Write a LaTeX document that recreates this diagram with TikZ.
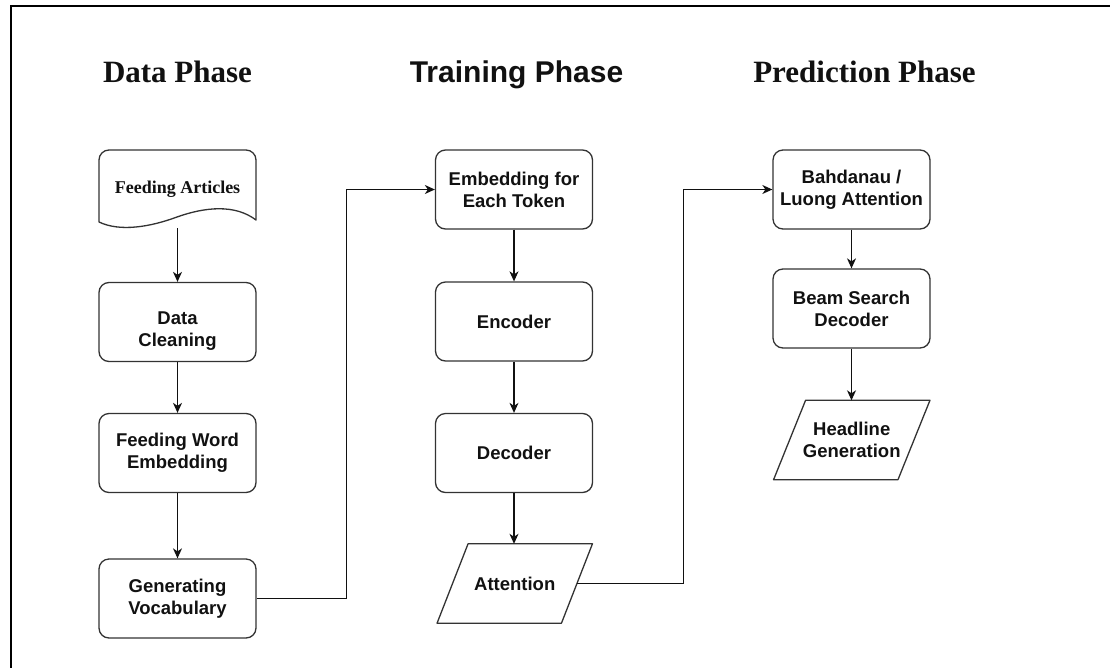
\documentclass[tikz,border=0pt]{standalone}
\usepackage{fontspec}
\setmainfont{Liberation Serif}
\setsansfont{Liberation Sans}
\usetikzlibrary{arrows.meta}
\definecolor{edgegray}{HTML}{333333}
\definecolor{inkblack}{HTML}{111111}
\begin{document}
\begin{tikzpicture}[x=1pt,y=-1pt,
  boxtext/.style={font=\sffamily\bfseries\fontsize{18.5}{22}\selectfont, text=inkblack, align=center},
  procbox/.style={boxtext, draw=edgegray, line width=1.3pt, rounded corners=10pt,
    minimum width=157pt, minimum height=79pt, inner sep=0pt},
  iobox/.style={boxtext, minimum width=124pt, minimum height=79pt, inner sep=0pt},
  phasetitle/.style={font=\bfseries\fontsize{31}{36}\selectfont, text=inkblack, anchor=base},
  flow/.style={draw=inkblack, line width=1.1pt, -{Stealth[length=10pt,width=9pt,inset=3pt]}},
  outline/.style={draw=edgegray, line width=1.3pt, line join=round}
]
\useasboundingbox (0,0) rectangle (1110,667);
\fill[white] (0,0) rectangle (1110,667);

% page frame (left and top edges)
\draw[black, line width=2pt] (11,670) -- (11,6) -- (1112,6);

% phase headings
\node[phasetitle] (tdata) at (177.5,82) {Data Phase};
\node[phasetitle, font=\sffamily\bfseries\fontsize{30}{36}\selectfont] (ttrain) at (516.5,82) {Training Phase};
\node[phasetitle] (tpred) at (864.5,82) {Prediction Phase};

% data phase
\node[boxtext, font=\bfseries\fontsize{18}{22}\selectfont, minimum width=157pt, minimum height=78pt, inner sep=0pt] (feed) at (177.5,189) {Feeding Articles};
\draw[outline] (99,222) -- (99,160) arc[start angle=180, end angle=270, radius=10] -- (246,150)
  arc[start angle=270, end angle=360, radius=10] -- (256,220)
  .. controls (235,204) and (205,207) .. (177,217)
  .. controls (150,227) and (120,232) .. cycle;
\node[procbox, label={[boxtext, yshift=-9pt]center:Data\\Cleaning}] (clean) at (177.5,322) {};
\node[procbox] (wemb) at (177.5,453) {Feeding Word\\Embedding};
\node[procbox] (vocab) at (177.5,598.5) {Generating\\Vocabulary};

% training phase
\node[procbox] (tok) at (514,189.5) {Embedding for\\Each Token};
\node[procbox] (enc) at (514,321.5) {Encoder};
\node[procbox] (dec) at (514,453) {Decoder};
\node[iobox] (att) at (514.75,583.5) {Attention};
\draw[outline] ([xshift=15.5pt]att.north west) -- ([xshift=15.5pt]att.north east)
  -- ([xshift=-15.5pt]att.south east) -- ([xshift=-15.5pt]att.south west) -- cycle;

% prediction phase
\node[procbox] (bahd) at (851.5,189.5) {Bahdanau /\\Luong Attention};
\node[procbox] (beam) at (851.5,308.5) {Beam Search\\Decoder};
\node[iobox] (head) at (851.75,440) {Headline\\Generation};
\draw[outline] ([xshift=16pt]head.north west) -- ([xshift=16pt]head.north east)
  -- ([xshift=-16pt]head.south east) -- ([xshift=-16pt]head.south west) -- cycle;

% connectors
\draw[flow] (feed.south) -- (clean.north);
\draw[flow] (clean.south) -- (wemb.north);
\draw[flow] (wemb.south) -- (vocab.north);
\draw[flow] (vocab.east) -- (346.5,598.5) |- (tok.west);
\draw[flow] (tok.south) -- (enc.north);
\draw[flow] (enc.south) -- (dec.north);
\draw[flow] (dec.south) -- (dec.south |- att.north);
\draw[flow] (att.east) -- (683.5,583.5) |- (bahd.west);
\draw[flow] (bahd.south) -- (beam.north);
\draw[flow] (beam.south) -- (beam.south |- head.north);
\end{tikzpicture}
\end{document}
